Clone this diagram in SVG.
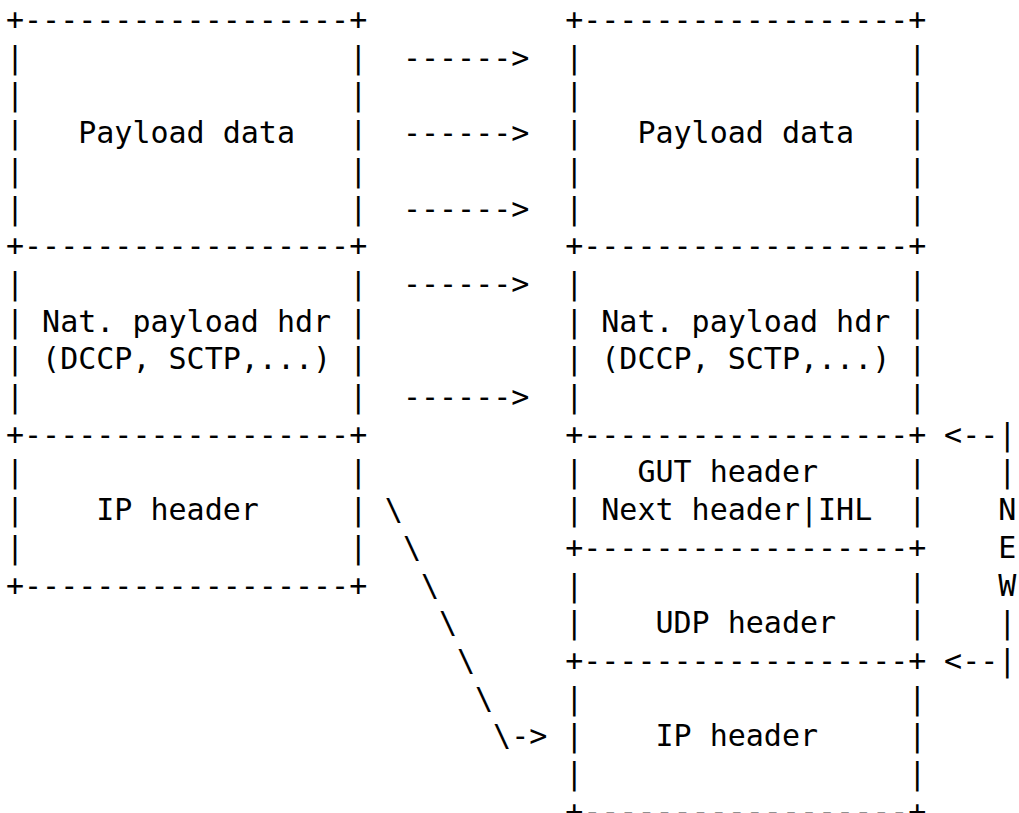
<svg xmlns="http://www.w3.org/2000/svg" width="1019" height="813" viewBox="0 0 1019 813">
  <style>
    .t { font-family: "DejaVu Sans Mono", "Liberation Mono", monospace; font-size: 30px; fill: #000; white-space: pre; }
  </style>
  <rect x="0" y="0" width="1019" height="813" fill="#fff"/>

  <!-- Original packet (left stack): column 0, rows 37.7px apart -->
  <g id="src-payload">
    <text class="t" xml:space="preserve"><tspan x="6" y="30">+------------------+</tspan><tspan x="6" y="67.7">|                  |</tspan><tspan x="6" y="105.4">|                  |</tspan><tspan x="6" y="143.1">|   Payload data   |</tspan><tspan x="6" y="180.8">|                  |</tspan><tspan x="6" y="218.5">|                  |</tspan><tspan x="6" y="256.2">+------------------+</tspan></text>
  </g>
  <g id="src-transport">
    <text class="t" xml:space="preserve"><tspan x="6" y="293.9">|                  |</tspan><tspan x="6" y="331.6">| Nat. payload hdr |</tspan><tspan x="6" y="369.3">| (DCCP, SCTP,...) |</tspan><tspan x="6" y="407">|                  |</tspan><tspan x="6" y="444.7">+------------------+</tspan></text>
  </g>
  <g id="src-ip">
    <text class="t" xml:space="preserve"><tspan x="6" y="482.4">|                  |</tspan><tspan x="6" y="520.1">|    IP header     |</tspan><tspan x="6" y="557.8">|                  |</tspan><tspan x="6" y="595.5">+------------------+</tspan></text>
  </g>

  <!-- Encapsulated packet (right stack): column 31 -->
  <g id="dst-payload">
    <text class="t" xml:space="preserve"><tspan x="565.2" y="30">+------------------+</tspan><tspan x="565.2" y="67.7">|                  |</tspan><tspan x="565.2" y="105.4">|                  |</tspan><tspan x="565.2" y="143.1">|   Payload data   |</tspan><tspan x="565.2" y="180.8">|                  |</tspan><tspan x="565.2" y="218.5">|                  |</tspan><tspan x="565.2" y="256.2">+------------------+</tspan></text>
  </g>
  <g id="dst-transport">
    <text class="t" xml:space="preserve"><tspan x="565.2" y="293.9">|                  |</tspan><tspan x="565.2" y="331.6">| Nat. payload hdr |</tspan><tspan x="565.2" y="369.3">| (DCCP, SCTP,...) |</tspan><tspan x="565.2" y="407">|                  |</tspan><tspan x="565.2" y="444.7">+------------------+</tspan></text>
  </g>
  <g id="dst-gut">
    <text class="t" xml:space="preserve"><tspan x="565.2" y="482.4">|   GUT header     |</tspan><tspan x="565.2" y="520.1">| Next header|IHL  |</tspan><tspan x="565.2" y="557.8">+------------------+</tspan></text>
  </g>
  <g id="dst-udp">
    <text class="t" xml:space="preserve"><tspan x="565.2" y="595.5">|                  |</tspan><tspan x="565.2" y="633.2">|    UDP header    |</tspan><tspan x="565.2" y="670.9">+------------------+</tspan></text>
  </g>
  <g id="dst-ip">
    <text class="t" xml:space="preserve"><tspan x="565.2" y="708.6">|                  |</tspan><tspan x="565.2" y="746.3">|    IP header     |</tspan><tspan x="565.2" y="784">|                  |</tspan><tspan x="565.2" y="821.7">+------------------+</tspan></text>
  </g>

  <!-- Connectors: copied fields, moved IP header, and the NEW bracket -->
  <g id="connectors">
    <text class="t" xml:space="preserve"><tspan x="402.9" y="67.7">------&gt;</tspan><tspan x="402.9" y="143.1">------&gt;</tspan><tspan x="402.9" y="218.5">------&gt;</tspan><tspan x="402.9" y="293.9">------&gt;</tspan><tspan x="402.9" y="407">------&gt;</tspan></text>
    <text class="t" xml:space="preserve"><tspan x="384.8" y="520.1">\</tspan><tspan x="402.9" y="557.8">\</tspan><tspan x="420.9" y="595.5">\</tspan><tspan x="439" y="633.2">\</tspan><tspan x="457" y="670.9">\</tspan><tspan x="475" y="708.6">\</tspan><tspan x="493.1" y="746.3">\-&gt;</tspan></text>
    <text class="t" xml:space="preserve"><tspan x="944.1" y="444.7">&lt;--|</tspan><tspan x="998.2" y="482.4">|</tspan><tspan x="998.2" y="520.1">N</tspan><tspan x="998.2" y="557.8">E</tspan><tspan x="998.2" y="595.5">W</tspan><tspan x="998.2" y="633.2">|</tspan><tspan x="944.1" y="670.9">&lt;--|</tspan></text>
  </g>
</svg>
